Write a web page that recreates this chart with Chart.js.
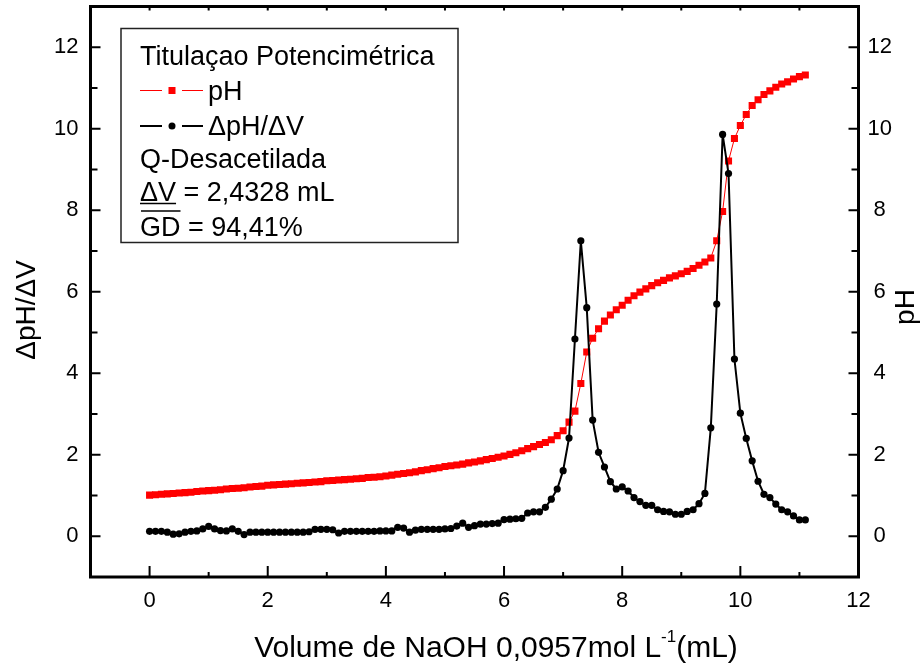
<!DOCTYPE html>
<html>
<head>
<meta charset="utf-8">
<script src="https://cdn.jsdelivr.net/npm/chart.js@4.4.1/dist/chart.umd.min.js"></script>
<style>
  html, body { margin: 0; padding: 0; background: #fff; }
  canvas { display: block; }
</style>
</head>
<body>
<canvas id="titChart" width="924" height="664"></canvas>
<script>
// volume of NaOH added (mL)
const volumeML = [
    0.0, 0.1, 0.2, 0.3, 0.4, 0.5, 0.6, 0.7, 0.8, 0.9,
    1.0, 1.1, 1.2, 1.3, 1.4, 1.5, 1.6, 1.7, 1.8, 1.9,
    2.0, 2.1, 2.2, 2.3, 2.4, 2.5, 2.6, 2.7, 2.8, 2.9,
    3.0, 3.1, 3.2, 3.3, 3.4, 3.5, 3.6, 3.7, 3.8, 3.9,
    4.0, 4.1, 4.2, 4.3, 4.4, 4.5, 4.6, 4.7, 4.8, 4.9,
    5.0, 5.1, 5.2, 5.3, 5.4, 5.5, 5.6, 5.7, 5.8, 5.9,
    6.0, 6.1, 6.2, 6.3, 6.4, 6.5, 6.6, 6.7, 6.8, 6.9,
    7.0, 7.1, 7.2, 7.3, 7.4, 7.5, 7.6, 7.7, 7.8, 7.9,
    8.0, 8.1, 8.2, 8.3, 8.4, 8.5, 8.6, 8.7, 8.8, 8.9,
    9.0, 9.1, 9.2, 9.3, 9.4, 9.5, 9.6, 9.7, 9.8, 9.9,
    10.0, 10.1, 10.2, 10.3, 10.4, 10.5, 10.6, 10.7, 10.8, 10.9,
    11.0, 11.1
];

const phValues = [
    1.01, 1.02, 1.03, 1.04, 1.05, 1.06, 1.07, 1.08, 1.10, 1.11,
    1.12, 1.13, 1.14, 1.16, 1.17, 1.18, 1.19, 1.21, 1.22, 1.23,
    1.25, 1.26, 1.27, 1.28, 1.29, 1.30, 1.31, 1.32, 1.33, 1.34,
    1.36, 1.37, 1.38, 1.39, 1.40, 1.41, 1.42, 1.44, 1.45, 1.46,
    1.48, 1.50, 1.52, 1.54, 1.56, 1.58, 1.61, 1.63, 1.66, 1.68,
    1.71, 1.73, 1.75, 1.77, 1.80, 1.82, 1.85, 1.88, 1.91, 1.94,
    1.97, 2.01, 2.05, 2.10, 2.15, 2.20, 2.25, 2.30, 2.37, 2.47,
    2.59, 2.80, 3.07, 3.75, 4.52, 4.86, 5.09, 5.28, 5.43, 5.56,
    5.67, 5.79, 5.90, 5.99, 6.07, 6.15, 6.22, 6.28, 6.34, 6.39,
    6.44, 6.50, 6.57, 6.65, 6.73, 6.83, 7.25, 7.97, 9.21, 9.76,
    10.08, 10.35, 10.57, 10.71, 10.84, 10.93, 11.02, 11.10, 11.15, 11.22,
    11.28, 11.32
];

// dpH/dV
const derivValues = [
    0.12, 0.12, 0.12, 0.10, 0.05, 0.06, 0.10, 0.12, 0.13, 0.18,
    0.24, 0.18, 0.14, 0.13, 0.18, 0.12, 0.04, 0.10, 0.10, 0.10,
    0.10, 0.10, 0.10, 0.10, 0.10, 0.10, 0.10, 0.11, 0.17, 0.17,
    0.17, 0.16, 0.08, 0.12, 0.12, 0.12, 0.12, 0.12, 0.12, 0.13,
    0.13, 0.13, 0.22, 0.20, 0.10, 0.15, 0.17, 0.17, 0.17, 0.17,
    0.18, 0.19, 0.25, 0.32, 0.22, 0.26, 0.30, 0.30, 0.31, 0.32,
    0.41, 0.42, 0.43, 0.44, 0.57, 0.60, 0.60, 0.71, 0.91, 1.16,
    1.61, 2.41, 4.84, 7.25, 5.61, 2.85, 2.06, 1.70, 1.34, 1.16,
    1.21, 1.11, 0.95, 0.85, 0.76, 0.76, 0.65, 0.61, 0.60, 0.54,
    0.54, 0.61, 0.65, 0.80, 1.05, 2.66, 5.70, 9.86, 8.90, 4.35,
    3.02, 2.40, 1.85, 1.35, 1.03, 0.95, 0.79, 0.65, 0.60, 0.50,
    0.40, 0.40
];

const xTickLabels = [0, 2, 4, 6, 8, 10, 12];
const xMinorTicks = [-1, 1, 3, 5, 7, 9, 11];
const xTopTicks = [0, 1, 2, 3, 4, 5, 6, 7, 8, 9, 10, 11];
const yTickLabels = [0, 2, 4, 6, 8, 10, 12];
const yMinorTicks = [1, 3, 5, 7, 9, 11];

const seriesNames = ['pH', '\u0394pH/\u0394V'];
const legendTitle = 'Titula\u00e7ao Potencim\u00e9trica';
const sampleName = 'Q-Desacetilada';
const deltaV = ['\u0394V', ' = 2,4328 mL'];
const degree = ['GD', ' = 94,41%'];

const FONT = '"Liberation Sans", Arial, sans-serif';

const framePlugin = {
    id: 'frame',
    afterDraw(chart) {
        const { ctx, chartArea: a, scales } = chart;
        const xs = scales.x, ys = scales.yL;
        ctx.save();
        ctx.strokeStyle = '#000';
        ctx.fillStyle = '#000';

        // inward tick marks
        ctx.lineWidth = 2;
        ctx.beginPath();
        xTickLabels.forEach(v => {
            const px = xs.getPixelForValue(v);
            ctx.moveTo(px, a.bottom); ctx.lineTo(px, a.bottom - 11);
        });
        xMinorTicks.forEach(v => {
            const px = xs.getPixelForValue(v);
            ctx.moveTo(px, a.bottom); ctx.lineTo(px, a.bottom - 5);
        });
        xTopTicks.forEach(v => {
            const px = xs.getPixelForValue(v);
            ctx.moveTo(px, a.top); ctx.lineTo(px, a.top + 4);
        });
        yTickLabels.forEach(v => {
            const py = ys.getPixelForValue(v);
            ctx.moveTo(a.left, py); ctx.lineTo(a.left + 10, py);
            ctx.moveTo(a.right, py); ctx.lineTo(a.right - 10, py);
        });
        yMinorTicks.forEach(v => {
            const py = ys.getPixelForValue(v);
            ctx.moveTo(a.left, py); ctx.lineTo(a.left + 7, py);
            ctx.moveTo(a.right, py); ctx.lineTo(a.right - 7, py);
        });
        ctx.stroke();

        ctx.lineWidth = 3;
        ctx.strokeRect(a.left, a.top, a.right - a.left, a.bottom - a.top);

        // axis titles
        ctx.font = '30px ' + FONT;
        ctx.textBaseline = 'alphabetic';
        ctx.textAlign = 'left';
        const t1 = 'Volume de NaOH 0,0957mol L', sup = '-1', t2 = '(mL)';
        const w1 = ctx.measureText(t1).width, w2 = ctx.measureText(t2).width;
        ctx.font = '17px ' + FONT;
        const ws = ctx.measureText(sup).width;
        let tx = 496 - (w1 + ws + w2) / 2;
        ctx.font = '30px ' + FONT;
        ctx.fillText(t1, tx, 657);
        ctx.font = '17px ' + FONT;
        ctx.fillText(sup, tx + w1, 642);
        ctx.font = '30px ' + FONT;
        ctx.fillText(t2, tx + w1 + ws, 657);

        ctx.font = '28px ' + FONT;
        ctx.textAlign = 'center';
        ctx.save();
        ctx.translate(35, 310);
        ctx.rotate(-Math.PI / 2);
        ctx.fillText(seriesNames[1], 0, 0);
        ctx.restore();
        ctx.save();
        ctx.translate(914, 307);
        ctx.rotate(-Math.PI / 2);
        ctx.fillText(seriesNames[0], 0, 0);
        ctx.restore();

        // legend box
        ctx.fillStyle = '#fff';
        ctx.fillRect(121, 28.5, 337, 214);
        ctx.lineWidth = 1.5;
        ctx.strokeStyle = '#222';
        ctx.strokeRect(121, 28.5, 337, 214);
        ctx.fillStyle = '#000';
        ctx.strokeStyle = '#000';
        ctx.font = '27px ' + FONT;
        ctx.textAlign = 'left';
        const lx = 140;
        ctx.fillText(legendTitle, lx, 65);

        // pH symbol
        ctx.strokeStyle = '#f00';
        ctx.lineWidth = 1;
        ctx.beginPath();
        ctx.moveTo(lx, 90.5); ctx.lineTo(lx + 22, 90.5);
        ctx.moveTo(lx + 42, 90.5); ctx.lineTo(lx + 63, 90.5);
        ctx.stroke();
        ctx.fillStyle = '#f00';
        ctx.fillRect(lx + 28.5, 87, 7, 7);
        ctx.fillStyle = '#000';
        ctx.fillText(seriesNames[0], lx + 68, 100);

        // dpH/dV symbol
        ctx.strokeStyle = '#000';
        ctx.lineWidth = 2;
        ctx.beginPath();
        ctx.moveTo(lx, 126); ctx.lineTo(lx + 22, 126);
        ctx.moveTo(lx + 42, 126); ctx.lineTo(lx + 63, 126);
        ctx.stroke();
        ctx.beginPath();
        ctx.arc(lx + 32, 126, 3.5, 0, Math.PI * 2);
        ctx.fill();
        ctx.fillText(seriesNames[1], lx + 68, 135);

        ctx.fillText(sampleName, lx, 168);

        const wdv = ctx.measureText(deltaV[0]).width;
        ctx.fillText(deltaV[0] + deltaV[1], lx, 201);
        const wgd = ctx.measureText(degree[0]).width;
        ctx.fillText(degree[0] + degree[1], lx, 236);
        ctx.lineWidth = 1.5;
        ctx.beginPath();
        ctx.moveTo(lx, 203.5); ctx.lineTo(lx + wdv, 203.5);
        ctx.moveTo(lx + 1, 211); ctx.lineTo(lx + wgd, 211);
        ctx.stroke();
        ctx.restore();
    }
};

function fixTicks(values) {
    return function (scale) {
        scale.ticks = values.map(v => ({ value: v }));
    };
}

const tickFont = { family: FONT, size: 22 };

new Chart(document.getElementById('titChart').getContext('2d'), {
    type: 'line',
    data: {
        datasets: [
            {
                label: seriesNames[1],
                data: volumeML.map((v, i) => ({ x: v, y: derivValues[i] })),
                yAxisID: 'yL',
                borderColor: '#000',
                borderWidth: 2,
                pointStyle: 'circle',
                pointRadius: 3.6,
                pointBackgroundColor: '#000',
                pointBorderWidth: 0,
                tension: 0,
                order: 0
            },
            {
                label: seriesNames[0],
                data: volumeML.map((v, i) => ({ x: v, y: phValues[i] })),
                yAxisID: 'yR',
                borderColor: '#f00',
                borderWidth: 1,
                pointStyle: 'rect',
                pointRadius: 5,
                pointBackgroundColor: '#f00',
                pointBorderWidth: 0,
                tension: 0,
                order: 1
            }
        ]
    },
    options: {
        responsive: false,
        animation: false,
        devicePixelRatio: 1,
        layout: { padding: { top: 6.5, left: 0, right: 0, bottom: 0 } },
        plugins: { legend: { display: false }, tooltip: { enabled: false } },
        scales: {
            x: {
                type: 'linear',
                position: 'bottom',
                min: -1,
                max: 12,
                grid: { display: false, drawTicks: false, tickLength: 0 },
                border: { display: false },
                afterBuildTicks: fixTicks(xTickLabels),
                afterFit: s => { s.height = 87; s.paddingLeft = 0; s.paddingRight = 0; },
                ticks: { color: '#000', font: tickFont, padding: 11, autoSkip: false, maxRotation: 0 }
            },
            yL: {
                type: 'linear',
                position: 'left',
                min: -1,
                max: 13,
                grid: { display: false, drawTicks: false, tickLength: 0 },
                border: { display: false },
                afterBuildTicks: fixTicks(yTickLabels),
                afterFit: s => { s.width = 90.5; s.paddingTop = 0; s.paddingBottom = 0; },
                ticks: { color: '#000', font: tickFont, padding: 12, autoSkip: false }
            },
            yR: {
                type: 'linear',
                position: 'right',
                min: -1,
                max: 13,
                grid: { display: false, drawTicks: false, tickLength: 0 },
                border: { display: false },
                afterBuildTicks: fixTicks(yTickLabels),
                afterFit: s => { s.width = 65.5; s.paddingTop = 0; s.paddingBottom = 0; },
                ticks: { color: '#000', font: tickFont, padding: 9, crossAlign: 'center', autoSkip: false }
            }
        }
    },
    plugins: [framePlugin]
});
</script>
</body>
</html>
